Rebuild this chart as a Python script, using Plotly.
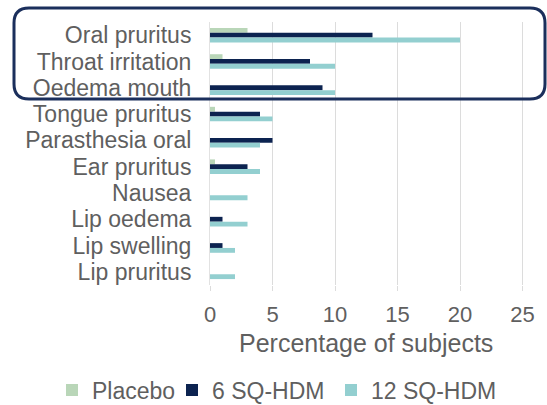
"""Adverse events by treatment group, horizontal grouped bars."""
import plotly.graph_objects as go

CATEGORIES = [
    "Oral pruritus",
    "Throat irritation",
    "Oedema mouth",
    "Tongue pruritus",
    "Parasthesia oral",
    "Ear pruritus",
    "Nausea",
    "Lip oedema",
    "Lip swelling",
    "Lip pruritus",
]
PLACEBO = [3, 1, 0, 0.4, 0, 0.4, 0, 0, 0, 0]
SQ6 = [13, 8, 9, 4, 5, 3, 0, 1, 1, 0]
SQ12 = [20, 10, 10, 5, 4, 4, 3, 3, 2, 2]

SERIES = [
    ("Placebo", PLACEBO, "#b9d6b8"),
    ("6 SQ-HDM", SQ6, "#0c2350"),
    ("12 SQ-HDM", SQ12, "#93cfd0"),
]

GREY = "#5f5f5f"

fig = go.Figure()
legend_ids = ["legend", "legend2", "legend3"]
for (name, values, color), lg in zip(SERIES, legend_ids):
    fig.add_trace(
        go.Bar(
            y=CATEGORIES,
            x=values,
            name=name,
            orientation="h",
            marker={"color": color, "line": {"width": 0}},
            legend=lg,
        )
    )

# rounded frame around the three top categories (paper coordinates)
PLOT_L, PLOT_R, PLOT_T, PLOT_B = 210, 535, 22, 285
pw, ph = PLOT_R - PLOT_L, PLOT_B - PLOT_T
x0, x1 = (14 - PLOT_L) / pw, (545 - PLOT_L) / pw
y0, y1 = (PLOT_B - 99) / ph, (PLOT_B - 8) / ph
rx, ry = 15 / pw, 15 / ph
frame = (
    f"M {x0 + rx},{y1} L {x1 - rx},{y1} Q {x1},{y1} {x1},{y1 - ry} "
    f"L {x1},{y0 + ry} Q {x1},{y0} {x1 - rx},{y0} "
    f"L {x0 + rx},{y0} Q {x0},{y0} {x0},{y0 + ry} "
    f"L {x0},{y1 - ry} Q {x0},{y1} {x0 + rx},{y1} Z"
)
fig.add_shape(
    type="path",
    path=frame,
    xref="paper",
    yref="paper",
    line={"color": "#1b2f5c", "width": 3},
    layer="above",
)

# axis title as annotation (keeps it clear of the tick labels)
fig.add_annotation(
    text="Percentage of subjects",
    xref="paper",
    yref="paper",
    x=0.48,
    y=0,
    yshift=-58,
    yanchor="middle",
    showarrow=False,
    font={"size": 25, "color": GREY},
)

legend_style = dict(
    orientation="h",
    xref="container",
    xanchor="left",
    yref="container",
    yanchor="middle",
    y=1 - 390 / 405,
    font={"size": 23, "color": GREY},
    itemwidth=30,
    bgcolor="rgba(0,0,0,0)",
)

fig.update_layout(
    width=547,
    height=405,
    margin={"l": PLOT_L, "r": 547 - PLOT_R, "t": PLOT_T, "b": 405 - PLOT_B},
    barmode="group",
    bargap=0.45,
    bargroupgap=0,
    plot_bgcolor="white",
    paper_bgcolor="white",
    font={"family": "Liberation Sans, Arial, sans-serif", "size": 22, "color": GREY},
    xaxis={
        "range": [0, 26],
        "tickvals": [0, 5, 10, 15, 20, 25],
        "showgrid": True,
        "gridcolor": "#dcdcdc",
        "gridwidth": 1,
        "zeroline": False,
        "ticks": "outside",
        "ticklen": 5,
        "tickcolor": "#dcdcdc",
        "ticklabelstandoff": 5,
        "tickfont": {"size": 22, "color": GREY},
        "automargin": False,
    },
    yaxis={
        "categoryorder": "array",
        "categoryarray": CATEGORIES,
        "tickmode": "array",
        "tickvals": CATEGORIES,
        "autorange": "reversed",
        "showline": True,
        "linecolor": "#e2e2e2",
        "showgrid": False,
        "ticks": "",
        "ticklabelstandoff": 13,
        "tickfont": {"size": 23, "color": GREY},
        "automargin": False,
    },
    legend={**legend_style, "x": 52 / 547},
    legend2={**legend_style, "x": 172 / 547},
    legend3={**legend_style, "x": 331 / 547},
    showlegend=True,
)

fig.write_html(
    "out.html",
    config={"displayModeBar": False},
    post_script="document.body.style.margin='0';",
)
